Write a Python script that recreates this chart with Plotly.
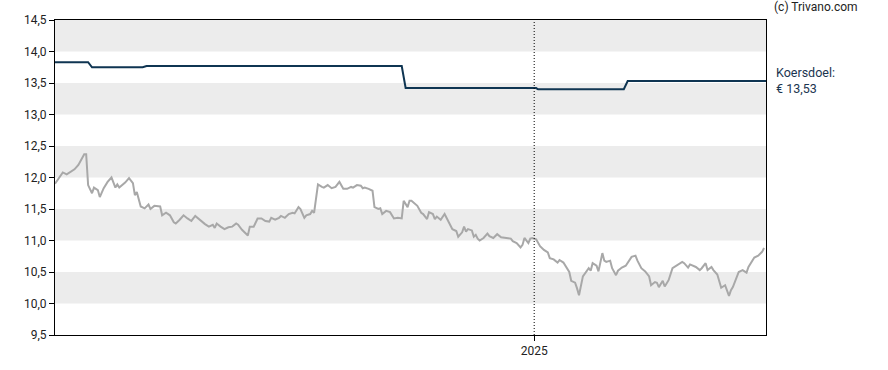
import plotly.graph_objects as go

# ---- data ----
price_dates = [
    "2024-04-30","2024-05-02","2024-05-04","2024-05-06","2024-05-09","2024-05-10","2024-05-12","2024-05-14",
    "2024-05-15","2024-05-16","2024-05-17","2024-05-19","2024-05-20","2024-05-22","2024-05-23","2024-05-25",
    "2024-05-27","2024-05-29","2024-05-31","2024-06-01","2024-06-02","2024-06-05","2024-06-07","2024-06-09",
    "2024-06-10","2024-06-11","2024-06-13","2024-06-15","2024-06-17","2024-06-18","2024-06-20","2024-06-23",
    "2024-06-24","2024-06-26","2024-06-28","2024-06-30","2024-07-01","2024-07-03","2024-07-05","2024-07-07",
    "2024-07-09","2024-07-11","2024-07-14","2024-07-16","2024-07-18","2024-07-20","2024-07-21","2024-07-22",
    "2024-07-24","2024-07-26","2024-07-28","2024-07-30","2024-08-01","2024-08-02","2024-08-04","2024-08-07",
    "2024-08-08","2024-08-10","2024-08-12","2024-08-14","2024-08-16","2024-08-18","2024-08-19","2024-08-21",
    "2024-08-23","2024-08-24","2024-08-26","2024-08-28","2024-08-30","2024-08-31","2024-09-02","2024-09-03",
    "2024-09-05","2024-09-06","2024-09-08","2024-09-09","2024-09-10","2024-09-12","2024-09-14","2024-09-15",
    "2024-09-17","2024-09-19","2024-09-21","2024-09-23","2024-09-25","2024-09-27","2024-09-29","2024-09-30",
    "2024-10-02","2024-10-04","2024-10-05","2024-10-06","2024-10-08","2024-10-10","2024-10-11","2024-10-13",
    "2024-10-14","2024-10-15","2024-10-17","2024-10-19","2024-10-21","2024-10-23","2024-10-25","2024-10-26",
    "2024-10-28","2024-10-29","2024-10-30","2024-11-01","2024-11-02","2024-11-04","2024-11-05","2024-11-07",
    "2024-11-08","2024-11-10","2024-11-11","2024-11-12","2024-11-14","2024-11-16","2024-11-17","2024-11-19",
    "2024-11-20","2024-11-22","2024-11-23","2024-11-25","2024-11-26","2024-11-27","2024-11-28","2024-11-30",
    "2024-12-01","2024-12-02","2024-12-03","2024-12-04","2024-12-06","2024-12-08","2024-12-09","2024-12-11",
    "2024-12-13","2024-12-15","2024-12-17","2024-12-20","2024-12-21","2024-12-23","2024-12-25","2024-12-26",
    "2024-12-27","2024-12-29","2024-12-30","2024-12-31","2025-01-02","2025-01-03","2025-01-04","2025-01-06",
    "2025-01-08","2025-01-09","2025-01-11","2025-01-13","2025-01-14","2025-01-16","2025-01-17","2025-01-19",
    "2025-01-20","2025-01-22","2025-01-23","2025-01-24","2025-01-26","2025-01-27","2025-01-28","2025-01-29",
    "2025-01-30","2025-01-31","2025-02-02","2025-02-03","2025-02-05","2025-02-06","2025-02-07","2025-02-09",
    "2025-02-10","2025-02-12","2025-02-13","2025-02-15","2025-02-17","2025-02-19","2025-02-20","2025-02-22",
    "2025-02-23","2025-02-25","2025-02-27","2025-03-01","2025-03-02","2025-03-04","2025-03-05","2025-03-06",
    "2025-03-08","2025-03-09","2025-03-11","2025-03-13","2025-03-14","2025-03-16","2025-03-18","2025-03-19",
    "2025-03-21","2025-03-22","2025-03-25","2025-03-27","2025-03-28","2025-03-30","2025-03-31","2025-04-02",
    "2025-04-03","2025-04-05","2025-04-06","2025-04-07","2025-04-08","2025-04-09","2025-04-11","2025-04-12",
    "2025-04-13","2025-04-15","2025-04-16","2025-04-18","2025-04-20","2025-04-21","2025-04-23","2025-04-24",
    "2025-04-26","2025-04-28","2025-04-29",
]
price_values = [
    11.90,12.00,12.08,12.05,12.12,12.13,12.20,12.30,
    12.37,12.37,11.88,11.75,11.84,11.80,11.69,11.83,
    11.93,12.00,11.84,11.89,11.84,11.92,11.99,11.91,
    11.72,11.77,11.54,11.51,11.57,11.50,11.55,11.54,
    11.40,11.44,11.40,11.29,11.27,11.33,11.40,11.35,
    11.31,11.39,11.31,11.26,11.22,11.25,11.20,11.27,
    11.22,11.18,11.21,11.22,11.27,11.25,11.17,11.08,
    11.22,11.22,11.35,11.35,11.31,11.30,11.36,11.33,
    11.36,11.39,11.36,11.42,11.44,11.43,11.53,11.50,
    11.36,11.40,11.42,11.47,11.44,11.89,11.85,11.84,
    11.88,11.83,11.85,11.93,11.82,11.82,11.85,11.84,
    11.88,11.87,11.83,11.84,11.82,11.79,11.53,11.50,
    11.51,11.42,11.47,11.45,11.35,11.36,11.35,11.63,
    11.53,11.63,11.63,11.58,11.55,11.44,11.42,11.34,
    11.45,11.42,11.34,11.38,11.33,11.42,11.36,11.26,
    11.18,11.15,11.06,11.13,11.22,11.14,11.18,11.16,
    11.06,11.09,11.03,11.00,11.04,11.11,11.07,11.04,
    11.10,11.05,11.04,11.03,10.99,10.96,10.89,10.93,
    11.04,10.96,11.03,11.04,11.02,10.97,10.91,10.85,
    10.81,10.72,10.70,10.65,10.69,10.65,10.60,10.50,
    10.36,10.33,10.24,10.13,10.43,10.48,10.52,10.56,
    10.52,10.64,10.60,10.51,10.80,10.68,10.66,10.68,
    10.56,10.45,10.52,10.57,10.60,10.69,10.74,10.76,
    10.68,10.56,10.51,10.43,10.29,10.34,10.33,10.26,
    10.36,10.27,10.37,10.56,10.58,10.62,10.66,10.64,
    10.57,10.62,10.58,10.53,10.56,10.64,10.53,10.58,
    10.53,10.46,10.35,10.25,10.27,10.29,10.12,10.21,
    10.26,10.43,10.50,10.53,10.49,10.58,10.68,10.73,
    10.76,10.82,10.88,
]

target_dates = ["2024-04-30","2024-05-17","2024-05-19","2024-06-14","2024-06-16","2024-10-25",
                "2024-10-27","2025-01-02","2025-01-03","2025-02-16","2025-02-18","2025-04-30"]
target_values = [13.83,13.83,13.75,13.75,13.77,13.77,
                 13.42,13.42,13.40,13.40,13.53,13.53]

y_ticks = [9.5,10.0,10.5,11.0,11.5,12.0,12.5,13.0,13.5,14.0,14.5]
x_range = ["2024-04-30","2025-04-30"]
x_tick_vals = ["2025-01-01"]
x_tick_text = ["2025"]
target_label = "Koersdoel:<br>€ 13,53"
copyright_text = "(c) Trivano.com"

# ---- figure ----
fig = go.Figure()

fig.add_trace(go.Scatter(x=price_dates, y=price_values, mode="lines",
                         line=dict(color="#a8a8a8", width=2), hoverinfo="skip", showlegend=False))
fig.add_trace(go.Scatter(x=target_dates, y=target_values, mode="lines",
                         line=dict(color="#0f3552", width=2), hoverinfo="skip", showlegend=False))

shapes = []
# alternating grey bands: 10,0-10,5 ; 11,0-11,5 ; ...
for lo, hi in zip(y_ticks[1::2], y_ticks[2::2]):
    shapes.append(dict(type="rect", xref="paper", yref="y", x0=0, x1=1, y0=lo, y1=hi,
                       fillcolor="#ececec", line=dict(width=0), layer="below"))
# dotted year line
shapes.append(dict(type="line", xref="x", yref="paper", x0=x_tick_vals[0], x1=x_tick_vals[0],
                   y0=0, y1=1, line=dict(color="#000000", width=1, dash="1px,2px")))

fig.update_layout(
    width=888, height=370,
    margin=dict(l=55, r=122, t=20, b=35),
    paper_bgcolor="white", plot_bgcolor="white",
    separators=",.",
    font=dict(family="Roboto, Arial, sans-serif", size=12, color="#222222"),
    shapes=shapes,
    showlegend=False,
    hovermode=False,
)

fig.update_xaxes(
    type="date", range=x_range,
    tickmode="array", tickvals=x_tick_vals, ticktext=x_tick_text,
    showgrid=False, zeroline=False,
    showline=True, linecolor="#000000", linewidth=1, mirror=True,
    ticks="outside", ticklen=5, tickcolor="#000000",
    tickfont=dict(size=12, color="#222222"),
)
fig.update_yaxes(
    range=[y_ticks[0], y_ticks[-1]],
    tickmode="array", tickvals=y_ticks, tickformat=".1f",
    showgrid=False, zeroline=False,
    showline=True, linecolor="#000000", linewidth=1, mirror=True,
    ticks="outside", ticklen=5, tickcolor="#000000",
    tickfont=dict(size=12, color="#222222"),
)

fig.add_annotation(text=copyright_text, xref="paper", yref="paper", x=1, y=1,
                   xanchor="left", yanchor="bottom", xshift=6, yshift=4, showarrow=False,
                   align="left", font=dict(size=12, color="#222222"))
fig.add_annotation(text=target_label, xref="paper", yref="y", x=1, y=target_values[-1],
                   xanchor="left", yanchor="middle", xshift=8, yshift=1, showarrow=False,
                   align="left", font=dict(size=12.5, color="#1b3550"))

fig.write_html("out.html",
               config={"displayModeBar": False, "staticPlot": True},
               post_script="document.body.style.margin='0';document.body.style.overflow='hidden';")
